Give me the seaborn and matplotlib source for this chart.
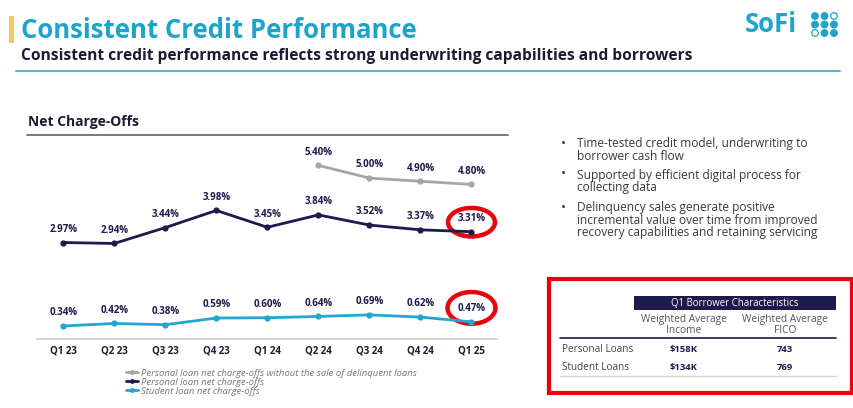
import matplotlib
matplotlib.use("Agg")
import matplotlib.pyplot as plt
from matplotlib.lines import Line2D
from matplotlib.patches import Ellipse, Rectangle, Circle
import pandas as pd
import seaborn as sns

# Chart data
quarters = ["Q1 23", "Q2 23", "Q3 23", "Q4 23", "Q1 24", "Q2 24", "Q3 24", "Q4 24", "Q1 25"]
personal_nco = [2.97, 2.94, 3.44, 3.98, 3.45, 3.84, 3.52, 3.37, 3.31]
personal_ex_sale_start = "Q2 24"
personal_nco_ex_sale = [5.40, 5.00, 4.90, 4.80]
student_nco = [0.34, 0.42, 0.38, 0.59, 0.60, 0.64, 0.69, 0.62, 0.47]

series_names = [
    "Personal loan net charge-offs without the sale of delinquent loans",
    "Personal loan net charge-offs",
    "Student loan net charge-offs",
]

bullets = [
    ["Time-tested credit model, underwriting to", "borrower cash flow"],
    ["Supported by efficient digital process for", "collecting data"],
    ["Delinquency sales generate positive",
     "incremental value over time from improved",
     "recovery capabilities and retaining servicing"],
]

table_title = "Q1 Borrower Characteristics"
table_cols = ["Weighted Average\nIncome", "Weighted Average\nFICO"]
table_rows = ["Personal Loans", "Student Loans"]
table_income = ["$158K", "$134K"]
table_fico = ["743", "769"]

# Colours
NAVY = "#1d1a4d"
TEAL = "#22a6cf"
TITLE_TEAL = "#1fa3c8"
GRAY = "#a6a6a6"
RED = "#e8000c"
DARK = "#1b1b33"

sns.set_theme(style="white")
plt.rcParams["font.family"] = ["Open Sans", "DejaVu Sans"]

W, H = 854, 408
fig = plt.figure(figsize=(W / 100, H / 100), dpi=100)

# full-figure canvas in pixel units for the slide decorations
canvas = fig.add_axes([0, 0, 1, 1], zorder=0)
canvas.set_xlim(0, W)
canvas.set_ylim(H, 0)
canvas.axis("off")

# header
canvas.add_patch(Rectangle((9, 16), 5, 27, color="#f8c66c", lw=0))
canvas.text(21, 30, "Consistent Credit Performance", fontsize=18.5, fontweight="bold",
            color=TITLE_TEAL, va="center", ha="left")
canvas.text(21, 56, "Consistent credit performance reflects strong underwriting capabilities and borrowers",
            fontsize=11.2, fontweight="bold", color=DARK, va="center", ha="left")
canvas.plot([16, 840], [71, 71], color="#5cb7d1", lw=1.5)
canvas.text(28, 122, "Net Charge-Offs", fontsize=10, fontweight="bold", color=DARK,
            va="center", ha="left")
canvas.plot([27, 508], [135, 135], color="#6e6a85", lw=1.3)

# logo
canvas.text(745, 25, "SoFi", fontsize=18.5, fontweight="bold", color=TITLE_TEAL,
            va="center", ha="left")
logo_filled = [[1, 1, 0], [1, 1, 1], [0, 1, 1]]
for r, row in enumerate(logo_filled):
    for c, filled in enumerate(row):
        canvas.add_patch(Circle((815 + c * 9.5, 16 + r * 8.5), 3.3,
                                facecolor=TITLE_TEAL if filled else "white",
                                edgecolor=TITLE_TEAL, lw=0.9))

# bullets
for b, lines in enumerate(bullets):
    y0 = [144, 175, 208][b]
    canvas.text(561, y0, "\u2022", fontsize=10, color="#3a3a3a", va="center", ha="left")
    for k, line in enumerate(lines):
        canvas.text(577, y0 + k * 12.2, line, fontsize=8.6, color="#3a3a3a",
                    va="center", ha="left")

# borrower table
canvas.add_patch(Rectangle((549, 279), 303, 114, fill=False, ec=RED, lw=3))
canvas.add_patch(Rectangle((634, 296), 202, 14, fc=NAVY, lw=0))
canvas.text(735, 303.5, table_title, fontsize=6.9, color="white", ha="center", va="center")
for x, col in zip([684, 785], table_cols):
    canvas.text(x, 325, col, fontsize=7.3, color="#555555", ha="center", va="center",
                linespacing=0.95)
canvas.plot([560, 836], [337.7, 337.7], color=NAVY, lw=1.2)
for y, name, inc, fico in zip([349.5, 368], table_rows, table_income, table_fico):
    canvas.text(562, y, name, fontsize=7.2, color="#444444", ha="left", va="center")
    canvas.text(684, y, inc, fontsize=6.8, fontweight="bold", color=NAVY, ha="center", va="center")
    canvas.text(785, y, fico, fontsize=6.8, fontweight="bold", color=NAVY, ha="center", va="center")
canvas.plot([560, 836], [376, 376], color="#d4d4d4", lw=1)

# line chart
start = quarters.index(personal_ex_sale_start)
records = []
for i, v in enumerate(personal_nco_ex_sale):
    records.append((series_names[0], start + i, v))
for i, v in enumerate(personal_nco):
    records.append((series_names[1], i, v))
for i, v in enumerate(student_nco):
    records.append((series_names[2], i, v))
df = pd.DataFrame(records, columns=["series", "idx", "rate"])
palette = dict(zip(series_names, [GRAY, NAVY, TEAL]))

ax = fig.add_axes([36.7 / W, 1 - 339 / H, (497 - 36.7) / W, (339 - 140) / H], zorder=1)
ax.patch.set_alpha(0)
sns.lineplot(data=df, x="idx", y="rate", hue="series", palette=palette, marker="o",
             markersize=4.5, markeredgewidth=0, linewidth=2, legend=False, ax=ax)

for _, r in df.iterrows():
    ax.annotate(f"{r['rate']:.2f}%", (r["idx"], r["rate"]), xytext=(0, 9.5),
                textcoords="offset points", ha="center", va="center",
                fontsize=7, fontweight="bold", color=NAVY)

# red highlight rings on the latest quarter
last = len(quarters) - 1
ax.add_patch(Ellipse((last, personal_nco[-1] + 0.3), 0.92, 0.9, fill=False,
                     ec=RED, lw=3.2, clip_on=False))
ax.add_patch(Ellipse((last, student_nco[-1] + 0.44), 0.94, 1.0, fill=False,
                     ec=RED, lw=3.2, clip_on=False))

ax.set_xlim(-0.52, 8.5)
ax.set_ylim(-0.07, 6.2)
ax.set_xticks(range(len(quarters)))
ax.set_xticklabels(quarters, fontsize=7, fontweight="bold", color=DARK)
ax.set_yticks([])
ax.set_xlabel("")
ax.set_ylabel("")
ax.tick_params(axis="x", length=0, pad=5)
for side in ["top", "right", "left"]:
    ax.spines[side].set_visible(False)
ax.spines["bottom"].set_color("#c9c9c9")
ax.spines["bottom"].set_linewidth(1.2)

handles = [Line2D([0], [0], color=c, lw=2, marker="o", markersize=3.5, markeredgewidth=0)
           for c in [GRAY, NAVY, TEAL]]
fig.legend(handles, series_names, loc="upper left", bbox_to_anchor=(121 / W, 1 - 364 / H),
           frameon=False, borderpad=0, handlelength=1.3, handletextpad=0.3,
           labelspacing=0.0, prop={"size": 6.8, "style": "italic"}, labelcolor="#777777")

fig.savefig("out.png", dpi=100)
